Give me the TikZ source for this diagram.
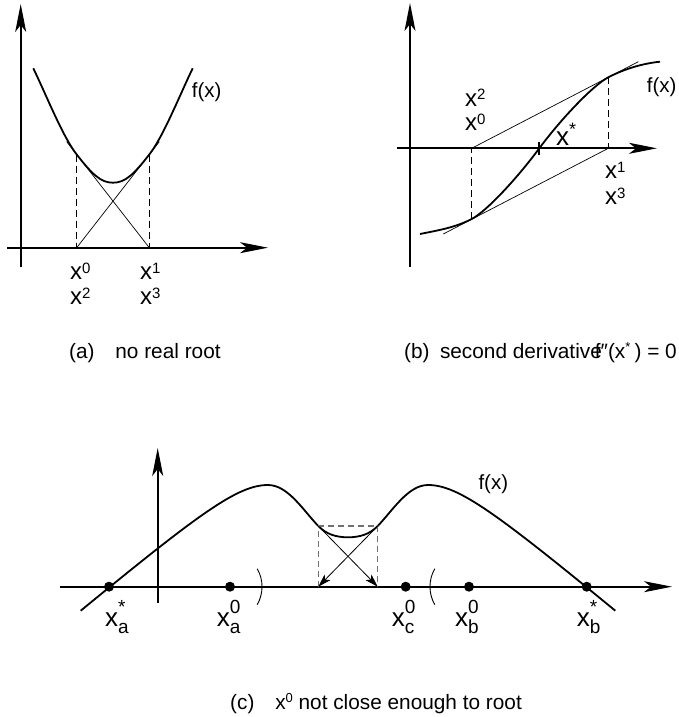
\documentclass[tikz,border=0pt]{standalone}
\usepackage{fontspec}
\setmainfont{Liberation Sans}
\usetikzlibrary{arrows.meta, positioning, calc}
\definecolor{boxGray}{HTML}{707070}
\newcommand{\xsup}[1]{x\raisebox{6pt}{\fontsize{15}{15}\selectfont #1}}
\newcommand{\xsubsup}[2]{x\rlap{\raisebox{13pt}{\fontsize{19}{19}\selectfont #2}}\raisebox{-6.5pt}{\fontsize{19}{19}\selectfont #1}}

\begin{document}
\begin{tikzpicture}[
    x=1pt, y=-1pt,
    axis/.style={line width=1.7pt, -{Stealth[length=28pt, width=11pt, inset=7pt]}},
    crv/.style={line width=1.8pt},
    tang/.style={line width=0.7pt},
    guide/.style={line width=0.9pt, dash pattern=on 7pt off 4pt},
    boxl/.style={line width=1.2pt, draw=boxGray, dash pattern=on 6pt off 4pt},
    newton/.style={line width=0.8pt, -{Stealth[length=13pt, width=8pt, inset=3pt]}},
    dot/.style={circle, fill, inner sep=0pt, minimum size=10pt},
    lbl/.style={inner sep=0pt, anchor=base west, font=\fontsize{24}{28}\selectfont},
    big/.style={inner sep=0pt, anchor=base west, font=\fontsize{26}{30}\selectfont},
    fxl/.style={inner sep=0pt, anchor=base west, font=\fontsize{20.5}{24}\selectfont},
    capt/.style={inner sep=0pt, anchor=base west, font=\fontsize{20.8}{24}\selectfont},
]
\useasboundingbox (0,0) rectangle (679,717);

\coordinate (ay0) at (20.7,267);
\coordinate (ay1) at (20.7,4);
\coordinate (ax0) at (7,247.7);
\coordinate (ax1) at (268,247.7);
\coordinate (at0) at (76.7,154.5);
\coordinate (at1) at (149.3,154.5);
\coordinate (ar0) at (76.7,247.7);
\coordinate (ar1) at (149.3,247.7);
\coordinate (as0) at (66.7,141.7);
\coordinate (as1) at (159.3,141.7);
\draw[axis] (ay0) -- (ay1);
\draw[axis] (ax0) -- (ax1);
\draw[crv] (33.3,68.3) .. controls (47.3,97.4) and (62.7,136.5) .. (at0)
    .. controls (92.7,175) and (101,182.7) .. (113,182.7)
    .. controls (125,182.7) and (133.3,175) .. (at1)
    .. controls (163.3,136.5) and (178.7,97.4) .. (192.7,68.3);
\draw[tang] (as0) -- (ar1);
\draw[tang] (as1) -- (ar0);
\draw[guide] (at0) -- (ar0);
\draw[guide] (at1) -- (ar1);
\node[fxl] (afx) at (191.7,97) {f(x)};
\node[lbl] (ax0l) at (70,279.3) {\xsup{0}};
\node[lbl] (ax2l) at (70,304) {\xsup{2}};
\node[lbl] (ax1l) at (140,279.3) {\xsup{1}};
\node[lbl] (ax3l) at (140,304) {\xsup{3}};
\node[capt] (acap) at (69,358) {(a)\quad no real root};

\coordinate (by0) at (410,267);
\coordinate (by1) at (410,3);
\coordinate (bx0) at (396.7,148.3);
\coordinate (bx1) at (657,148.3);
\coordinate (bt0) at (471.7,219);
\coordinate (bt1) at (608.3,77.3);
\coordinate (br0) at (471.7,148.3);
\coordinate (br1) at (608.3,148.3);
\coordinate (be0) at (638.3,61.7);
\coordinate (be1) at (443.3,234);
\coordinate (bz) at (539.3,148.3);
\coordinate (tk0) at (539.3,142);
\coordinate (tk1) at (539.3,155);
\draw[axis] (by0) -- (by1);
\draw[axis] (bx0) -- (bx1);
\draw[crv] (420,234) .. controls (437,230.5) and (454.7,227.8) .. (bt0)
    .. controls (486.7,211.2) and (517.3,178) .. (bz)
    .. controls (561.3,118.6) and (593.3,85.1) .. (bt1)
    .. controls (625.3,68.5) and (643,63.5) .. (660,61.7);
\draw[tang] (br0) -- (be0);
\draw[tang] (be1) -- (br1);
\draw[guide] (bt0) -- (br0);
\draw[guide] (bt1) -- (br1);
\draw[crv] (tk0) -- (tk1);
\node[big] (bxs) at (556,145.7) {x\raisebox{10pt}{\fontsize{18}{18}\selectfont *}};
\node[fxl] (bfx) at (646.7,92.5) {f(x)};
\node[lbl] (bx2l) at (465,106) {\xsup{2}};
\node[lbl] (bx0l) at (465,130) {\xsup{0}};
\node[lbl] (bx1l) at (605,178.3) {\xsup{1}};
\node[lbl] (bx3l) at (605,204) {\xsup{3}};
\node[capt] (bcap) at (404,358) {(b)\enspace second derivative};
\node[capt, anchor=base east] (bcond) at (677,358)
    {f″(x\rlap{\raisebox{7pt}{\fontsize{13}{13}\selectfont *}}\ \,) = 0};

\coordinate (cy0) at (157.7,602.7);
\coordinate (cy1) at (157.7,448);
\coordinate (cx0) at (60,586.7);
\coordinate (cx1) at (672,586.7);
\coordinate (ck0) at (318.3,526);
\coordinate (ck1) at (377.7,526);
\coordinate (cb0) at (318.3,586.7);
\coordinate (cb1) at (377.7,586.7);
\draw[axis] (cy0) -- (cy1);
\draw[axis] (cx0) -- (cx1);
\draw[crv] (80.7,610.7) .. controls (200.7,512.3) and (238,485) .. (268,485)
    .. controls (288,485) and (303.3,510.5) .. (ck0)
    .. controls (326.3,534.2) and (336,537.3) .. (348,537.3)
    .. controls (360,537.3) and (369.7,534.2) .. (ck1)
    .. controls (392.7,510.5) and (408,485) .. (428,485)
    .. controls (458,485) and (495.3,512.3) .. (615.3,610.7);
\draw[boxl] (cb0) -- (ck0) -- (ck1) -- (cb1);
\draw[newton] (ck0) -- (cb1);
\draw[newton] (ck1) -- (cb0);
\node[dot] (xas) at (109,586.7) {};
\node[dot] (xa0) at (230,586.7) {};
\node[dot] (xc0) at (405.7,586.7) {};
\node[dot] (xb0) at (469,586.7) {};
\node[dot] (xbs) at (586.7,586.7) {};
\draw[line width=0.9pt] (257.2,568.7) arc[start angle=-30, end angle=30, radius=36];
\draw[line width=0.9pt] (434.8,568.7) arc[start angle=210, end angle=150, radius=36];
\node[big] (xasl) at (105,626.7) {\xsubsup{a}{*}};
\node[big] (xa0l) at (216.7,626.7) {\xsubsup{a}{0}};
\node[big] (xc0l) at (391.7,626.7) {\xsubsup{c}{0}};
\node[big] (xb0l) at (455,626.7) {\xsubsup{b}{0}};
\node[big] (xbsl) at (576.7,626.7) {\xsubsup{b}{*}};
\node[fxl] (cfx) at (478.3,489) {f(x)};
\node[capt] (ccap) at (230,709) {(c)\quad x\raisebox{7pt}{\fontsize{13}{13}\selectfont 0} not close enough to root};
\end{tikzpicture}
\end{document}
